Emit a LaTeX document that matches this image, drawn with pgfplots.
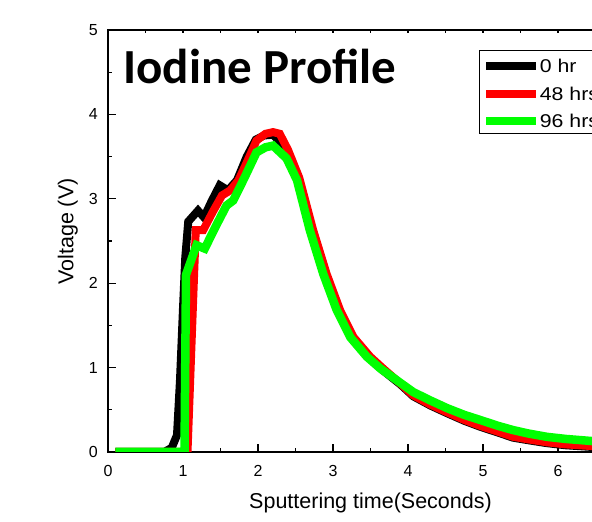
\documentclass[border=0pt]{standalone}
\usepackage{pgfplots}
\pgfplotsset{compat=1.18}
\usepackage{fontspec}
\setmainfont{Liberation Sans}
\newfontfamily\titlefont{Carlito}
\newfontfamily\legfont[FakeStretch=1.15]{Liberation Sans}
\definecolor{pure red}{RGB}{255,0,0}
\definecolor{pure green}{RGB}{0,255,0}
\begin{document}
\begin{tikzpicture}
\begin{scope}
\clip (-108pt,-70pt) rectangle (484pt,452pt);
\begin{axis}[
 scale only axis, width=525pt, height=422pt,
 xmin=0, xmax=7, ymin=0, ymax=5,
 xtick={0,...,7}, ytick={0,...,5},
 minor x tick num=1, minor y tick num=1,
 xtick pos=left, ytick pos=left,
 tick align=inside,
 major tick length=8pt, minor tick length=4pt,
 tick style={black, line width=1.3pt},
 axis line style={line width=1.6pt},
 /pgf/number format/assume math mode=true,
 ticklabel style={font=\fontsize{16}{16}\selectfont, inner sep=0pt},
 yticklabel style={xshift=-10pt},
 xticklabel style={yshift=-13pt},
 xlabel={Sputtering time(Seconds)},
 ylabel={Voltage (V)},
 xlabel style={at={(axis description cs:0.5,0)}, anchor=north, yshift=-41pt, inner sep=0pt, font=\fontsize{21.5}{21.5}\selectfont},
 ylabel style={at={(axis description cs:-0.0661,0.5225)}, anchor=base, inner sep=0pt, font=\fontsize{21.5}{21.5}\selectfont},
 legend cell align=left,
 legend style={at={(0.7072,0.9526)}, anchor=north west, draw=black, line width=1pt,
   inner xsep=2.5pt, inner ysep=3pt, font=\fontsize{18.5}{18.5}\selectfont\legfont,
   row sep=5.6pt, column sep=0pt,
   nodes={inner sep=0pt, text height=19pt, text depth=3pt},
   cells={anchor=base west}},
 legend image code/.code={\draw[#1, line width=8pt] (0pt,6.3pt) -- (49.6pt,6.3pt);},
]
\addplot[black, line width=8pt] coordinates {
(0.1,0) (0.75,0) (0.85,0.05) (0.92,0.2) (0.96,0.85) (1.0,1.7) (1.03,2.3) (1.07,2.73)
(1.2,2.86) (1.28,2.78) (1.38,2.97) (1.49,3.16) (1.6,3.10) (1.72,3.22) (1.85,3.50)
(1.97,3.70) (2.08,3.75) (2.2,3.76) (2.3,3.67) (2.41,3.48) (2.55,3.22) (2.72,2.63)
(2.90,2.11) (3.08,1.68) (3.26,1.36) (3.48,1.12) (3.66,0.97) (3.90,0.80) (4.07,0.66)
(4.30,0.55) (4.52,0.46) (4.75,0.37) (4.96,0.30) (5.2,0.23) (5.4,0.17) (5.6,0.14)
(5.85,0.105) (6.1,0.08) (6.45,0.06) (6.8,0.04) (7.0,0.03)};
\addlegendentry{0 hr}
\addplot[pure red, line width=8pt] coordinates {
(0.1,0) (1.06,0) (1.17,2.63) (1.27,2.63) (1.40,2.85) (1.52,3.04) (1.63,3.10) (1.74,3.22)
(1.86,3.45) (1.98,3.69) (2.1,3.77) (2.2,3.79) (2.29,3.77) (2.40,3.58) (2.55,3.25)
(2.735,2.63) (2.915,2.11) (3.095,1.68) (3.275,1.36) (3.495,1.13) (3.68,0.98) (3.90,0.81)
(4.07,0.67) (4.30,0.56) (4.52,0.47) (4.75,0.38) (4.96,0.31) (5.2,0.24) (5.4,0.18)
(5.6,0.15) (5.85,0.115) (6.1,0.09) (6.45,0.07) (6.8,0.05) (7.0,0.04)};
\addlegendentry{48 hrs}
\addplot[pure green, line width=8.5pt] coordinates {
(0.1,0) (1.02,0) (1.04,2.1) (1.18,2.45) (1.29,2.41) (1.44,2.68) (1.58,2.92) (1.67,2.98)
(1.82,3.25) (1.98,3.55) (2.1,3.61) (2.2,3.63) (2.38,3.48) (2.52,3.22) (2.69,2.63)
(2.87,2.11) (3.05,1.68) (3.23,1.36) (3.45,1.13) (3.63,0.99) (3.85,0.85) (4.07,0.71)
(4.30,0.61) (4.52,0.52) (4.75,0.44) (4.96,0.38) (5.2,0.31) (5.4,0.26) (5.6,0.22)
(5.85,0.18) (6.1,0.155) (6.45,0.13) (6.8,0.11) (7.0,0.10)};
\addlegendentry{96 hrs}
\node[anchor=base west, inner sep=0pt, font=\fontsize{49}{49}\selectfont\titlefont\bfseries] at (axis cs:0.204,4.363) {Iodine Profile};
\end{axis}
\begin{axis}[
 scale only axis, width=525pt, height=422pt,
 xmin=0, xmax=7, ymin=0, ymax=5,
 axis line style={draw=none},
 ytick=\empty,
 xtick={0,0.5,...,7}, xticklabels={},
 xtick pos=right,
 tick align=inside,
 major tick length=3.5pt,
 tick style={black, line width=1.3pt},
]
\end{axis}
\end{scope}
\pgfresetboundingbox
\path[use as bounding box] (-108pt,-70pt) rectangle (484pt,452pt);
\end{tikzpicture}
\end{document}
